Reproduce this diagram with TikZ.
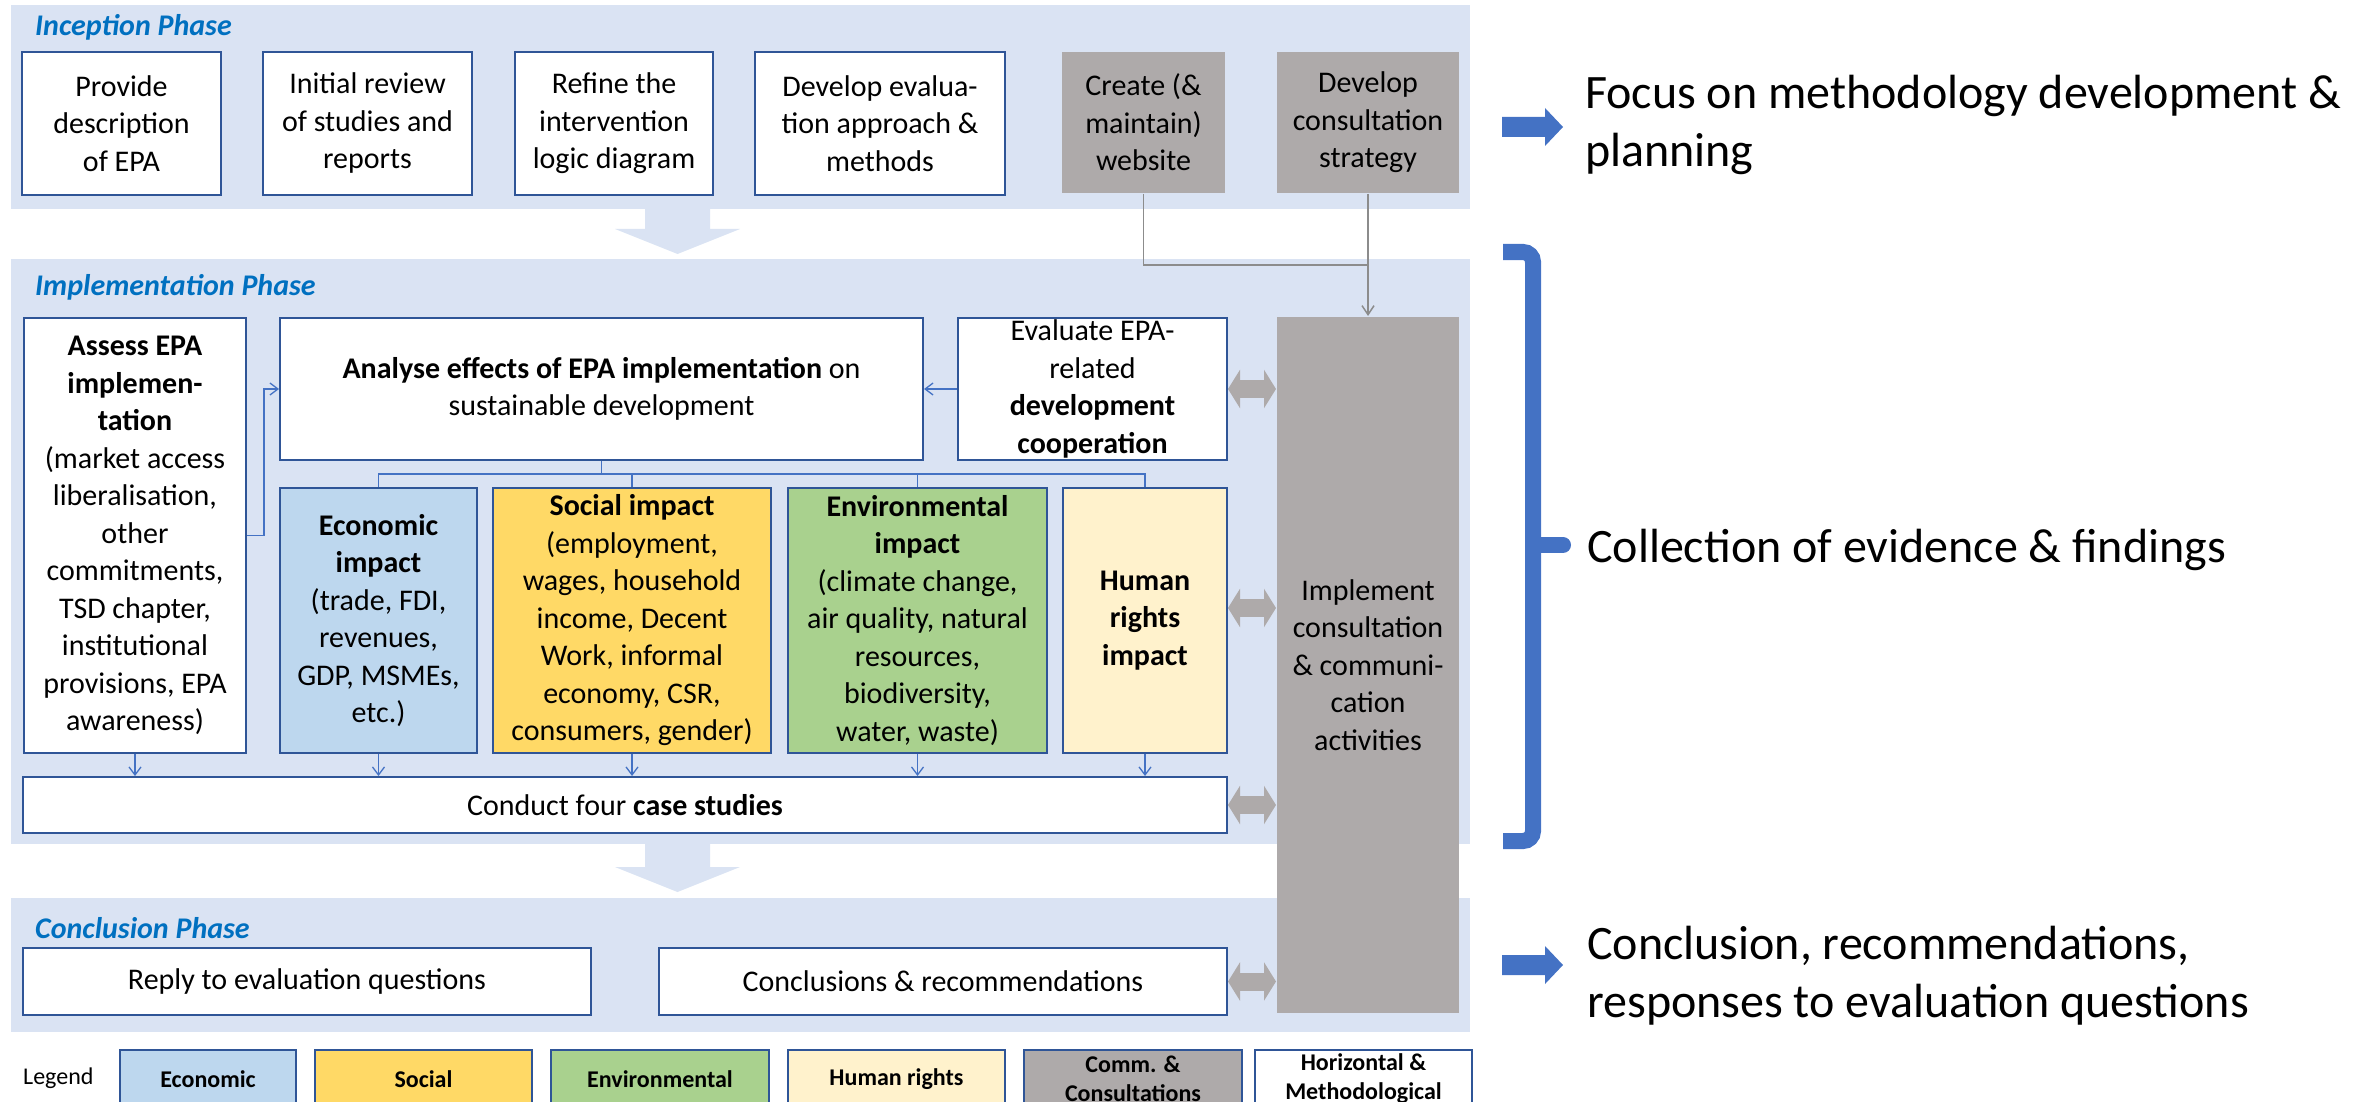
\documentclass[tikz,border=0pt]{standalone}
\usepackage{fontspec}
\setmainfont{Carlito}
\usetikzlibrary{arrows.meta,calc}
\definecolor{phasebg}{HTML}{DAE3F3}
\definecolor{boxline}{HTML}{2F5597}
\definecolor{commgray}{HTML}{AEAAAA}
\definecolor{econ}{HTML}{BDD7EE}
\definecolor{soc}{HTML}{FFD966}
\definecolor{envi}{HTML}{A9D18E}
\definecolor{hum}{HTML}{FFF2CC}
\definecolor{titleblue}{HTML}{0070C0}
\definecolor{accent}{HTML}{4472C4}
\definecolor{conngray}{HTML}{8C8C8C}
\newcommand{\bodyfs}{\fontsize{30}{37.5}\selectfont}
\newcommand{\legfs}{\fontsize{24}{29}\selectfont}
\newcommand{\bigfs}{\fontsize{48}{58}\selectfont}
\begin{document}
\begin{tikzpicture}[x=1pt,y=-1pt,
  wbox/.style={draw=boxline, line width=2pt, fill=white, align=center, inner sep=0pt, font=\bodyfs, text=black},
  gbox/.style={wbox, draw=none, fill=commgray},
  phasetitle/.style={anchor=west, inner sep=0pt, text=titleblue, font=\bodyfs\bfseries\itshape},
  legbox/.style={draw=boxline, line width=1.5pt, align=center, inner sep=0pt, font=\legfs\bfseries, minimum height=58pt},
  thin/.style={accent, line width=1.3pt},
  thinarr/.style={thin, -{Straight Barb[length=8pt,width=12pt]}},
  grayarr/.style={conngray, line width=1.5pt},
  darr/.style={commgray, line width=18pt, {Triangle[length=12pt,width=38pt]}-{Triangle[length=12pt,width=38pt]}},
  bigtext/.style={anchor=base west, inner sep=0pt, align=left, font=\bigfs}
]
\useasboundingbox (0,0) rectangle (2356,1102);
% phase backgrounds
\fill[phasebg] (11,5) rectangle (1470,209);
\fill[phasebg] (11,259) rectangle (1470,844);
\fill[phasebg] (11,898) rectangle (1470,1032);
% big down arrows
\fill[phasebg] (645,205) -- (710,205) -- (710,229) -- (740,229) -- (677.5,254) -- (615,229) -- (645,229) -- cycle;
\fill[phasebg] (645,840) -- (710,840) -- (710,867) -- (740,867) -- (677.5,892) -- (615,867) -- (645,867) -- cycle;
% titles
\node[phasetitle] (t1) at (35,27) {Inception Phase};
\node[phasetitle] (t2) at (35,287) {Implementation Phase};
\node[phasetitle] (t3) at (35,928) {Conclusion Phase};
% inception boxes
\node[wbox, minimum width=199pt, minimum height=143pt] (b1) at (121.5,123.5) {Provide\\description\\of EPA};
\node[wbox, minimum width=209pt, minimum height=143pt] (b2) at (367.5,123.5) {Initial review\\of studies and\\reports};
\node[wbox, minimum width=198pt, minimum height=143pt] (b3) at (614,123.5) {Refine the\\intervention\\logic diagram};
\node[wbox, minimum width=250pt, minimum height=143pt] (b4) at (880,123.5) {Develop evalua-\\tion approach \&\\methods};
\node[gbox, minimum width=163pt, minimum height=141pt] (b5) at (1143.5,122.5) {Create (\&\\maintain)\\website};
\node[gbox, minimum width=182pt, minimum height=141pt] (b6) at (1368,122.5) {Develop\\consultation\\strategy};
% implementation boxes
\node[gbox, minimum width=182pt, minimum height=696pt] (impl) at (1368,665) {Implement\\consultation\\\& communi-\\cation\\activities};
\node[wbox, minimum width=222pt, minimum height=435pt] (assess) at (135,535.5) {\textbf{Assess EPA}\\\textbf{implemen-}\\\textbf{tation}\\(market access\\liberalisation,\\other\\commitments,\\TSD chapter,\\institutional\\provisions, EPA\\awareness)};
\node[wbox, minimum width=643pt, minimum height=142pt] (analyse) at (601.5,389) {\textbf{Analyse effects of EPA implementation} on\\sustainable development};
\node[wbox, minimum width=269pt, minimum height=142pt] (evaluate) at (1092.5,389) {Evaluate EPA-\\related\\\textbf{development}\\\textbf{cooperation}};
\node[wbox, fill=econ, minimum width=197pt, minimum height=265pt] (econ) at (378.5,620.5) {\textbf{Economic}\\\textbf{impact}\\(trade, FDI,\\revenues,\\GDP, MSMEs,\\etc.)};
\node[wbox, fill=soc, minimum width=278pt, minimum height=265pt] (social) at (632,620.5) {\textbf{Social impact}\\(employment,\\wages, household\\income, Decent\\Work, informal\\economy, CSR,\\consumers, gender)};
\node[wbox, fill=envi, minimum width=259pt, minimum height=265pt] (env) at (917.5,620.5) {\textbf{Environmental}\\\textbf{impact}\\(climate change,\\air quality, natural\\resources,\\biodiversity,\\water, waste)};
\node[wbox, fill=hum, minimum width=164pt, minimum height=265pt] (hr) at (1145,620.5) {\textbf{Human}\\\textbf{rights}\\\textbf{impact}};
\node[wbox, minimum width=1204pt, minimum height=56pt] (case) at (625,805) {Conduct four \textbf{case studies}};
% conclusion boxes
\node[wbox, minimum width=568pt, minimum height=67pt] (reply) at (307,981.5) {Reply to evaluation questions};
\node[wbox, minimum width=568pt, minimum height=67pt] (concl) at (943,981.5) {Conclusions \& recommendations};
% legend
\node[anchor=west, inner sep=0pt, font=\legfs] (legend) at (23,1078) {Legend};
\node[legbox, fill=econ, minimum width=176pt] (le1) at (208,1079) {Economic};
\node[legbox, fill=soc, minimum width=217pt] (le2) at (423.5,1079) {Social};
\node[legbox, fill=envi, minimum width=218pt] (le3) at (660,1079) {Environmental};
\node[legbox, fill=hum, minimum width=217pt] (le4) at (896.5,1079) {Human rights};
\node[legbox, fill=commgray, minimum width=218pt] (le5) at (1133,1079) {Comm. \&\\Consultations};
\node[legbox, fill=white, minimum width=217pt] (le6) at (1363.5,1079) {Horizontal \&\\Methodological};
% gray connectors
\coordinate (j) at (1368,265);
\draw[grayarr] (b5.south) |- (j);
\draw[grayarr, -{Straight Barb[length=9pt,width=12pt]}] (b6.south) -- (impl.north);
% blue connectors
\draw[thinarr] (assess.east) -- ++(17,0) |- (analyse.west);
\draw[thinarr] (evaluate.west) -- (analyse.east);
\coordinate (tr) at (601.5,474);
\draw[thin] (analyse.south) -- (tr);
\draw[thin] (econ.north) |- (hr.north |- tr) -- (hr.north);
\draw[thin] (social.north) -- (social.north |- tr);
\draw[thin] (env.north) -- (env.north |- tr);
\foreach \n in {assess,econ,social,env,hr}{
  \draw[thinarr] (\n.south) -- (\n.south |- case.north);
}
% double arrows
\coordinate (hra) at ([yshift=12.5pt]hr.east);
\draw[darr] (evaluate.east) -- (evaluate.east -| impl.west);
\draw[darr] (hra) -- (hra -| impl.west);
\draw[darr] (case.east) -- (case.east -| impl.west);
\draw[darr] (concl.east) -- (concl.east -| impl.west);
% right side
\fill[accent] (1502,117) -- (1545,117) -- (1545,108) -- (1563,127) -- (1545,146) -- (1545,137) -- (1502,137) -- cycle;
\fill[accent] (1502,955) -- (1545,955) -- (1545,946) -- (1563,965) -- (1545,984) -- (1545,975) -- (1502,975) -- cycle;
\draw[accent, line width=16pt, rounded corners=10pt] (1503,252) -- (1533,252) -- (1533,841) -- (1503,841);
\draw[accent, line width=16pt, line cap=round] (1533,545) -- (1563,545);
\node[bigtext] (r1) at (1585,167) {Focus on methodology development \&\\planning};
\node[bigtext] (r2) at (1587,562) {Collection of evidence \& findings};
\node[bigtext] (r3) at (1587,1017) {Conclusion, recommendations,\\responses to evaluation questions};
\end{tikzpicture}
\end{document}
